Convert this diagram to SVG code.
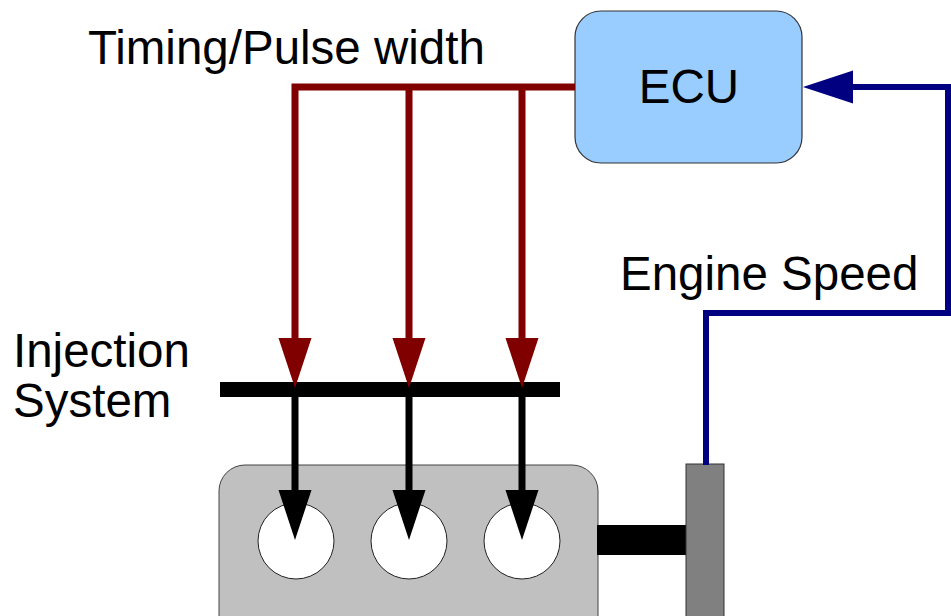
<svg xmlns="http://www.w3.org/2000/svg" width="951" height="616" viewBox="0 0 951 616">
<style>
  text { font-family: "Liberation Sans", Arial, sans-serif; font-size: 47.5px; fill: #000; }
  .red { fill: none; stroke: #800000; stroke-width: 7; }
  .blue { fill: none; stroke: #000080; stroke-width: 6; }
  .blk { fill: none; stroke: #000; stroke-width: 7; }
  .hred { fill: #800000; }
  .hblk { fill: #000; }
  .hblue { fill: #000080; }
</style>
<defs>
  <path id="headDown" d="M-16.5,-50 L16.5,-50 L0,0 Z"/>
</defs>

<g id="engine">
  <rect x="219" y="465" width="379" height="180" rx="26" ry="26" fill="#c0c0c0" stroke="#444" stroke-width="1"/>
  <circle cx="296" cy="541" r="38" fill="#fff" stroke="#222" stroke-width="1"/>
  <circle cx="409" cy="541" r="38" fill="#fff" stroke="#222" stroke-width="1"/>
  <circle cx="522" cy="541" r="38" fill="#fff" stroke="#222" stroke-width="1"/>
</g>
<g id="shaft">
  <rect x="597" y="525" width="90" height="30" fill="#000"/>
</g>
<g id="flywheel">
  <rect x="686" y="464" width="38" height="170" fill="#808080" stroke="#333" stroke-width="1"/>
</g>
<g id="injection-bar">
  <rect x="220" y="382" width="340" height="15" fill="#000"/>
</g>
<g id="ecu">
  <rect x="575" y="11" width="227" height="152" rx="26" ry="26" fill="#99ccff" stroke="#333" stroke-width="1.2"/>
  <text x="689" y="103" text-anchor="middle">ECU</text>
</g>

<g id="connectors">
  <path class="red" d="M575,87 H295 V340"/>
  <path class="red" d="M409,87 V340"/>
  <path class="red" d="M522,87 V340"/>
  <use href="#headDown" class="hred" x="295" y="388"/>
  <use href="#headDown" class="hred" x="409" y="388"/>
  <use href="#headDown" class="hred" x="522" y="388"/>
  <path class="blk" d="M295,395 V492"/>
  <path class="blk" d="M409,395 V492"/>
  <path class="blk" d="M522,395 V492"/>
  <use href="#headDown" class="hblk" x="295" y="540"/>
  <use href="#headDown" class="hblk" x="409" y="540"/>
  <use href="#headDown" class="hblk" x="522" y="540"/>
  <path class="blue" d="M706,465 V313 H948 V87 H851"/>
  <path class="hblue" d="M803,87 L853,70.5 L853,103.5 Z"/>
</g>

<g id="labels">
  <text x="88" y="64">Timing/Pulse width</text>
  <text x="620" y="290">Engine Speed</text>
  <text x="13" y="367">Injection</text>
  <text x="13" y="417">System</text>
</g>
</svg>
